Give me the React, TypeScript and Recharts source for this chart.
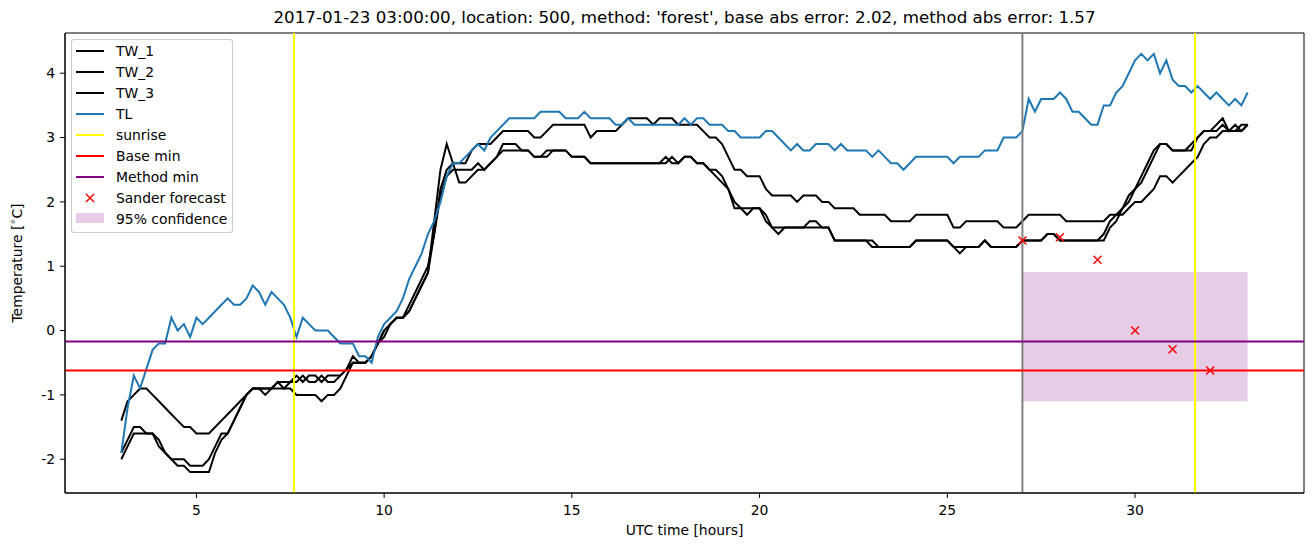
import React from "react"
import {
  ComposedChart,
  Line,
  Scatter,
  XAxis,
  YAxis,
  ReferenceLine,
  ReferenceArea,
} from "recharts"

// one reading every 10 minutes, 03:00 to 33:00 (hours since midnight)
const hours = Array.from({ length: 181 }, (_, i) => 3 + i / 6)

const tw1 = [
  -1.4, -1.1, -1.0, -0.9, -0.9, -1.0, -1.1, -1.2, -1.3, -1.4, -1.5, -1.5,
  -1.6, -1.6, -1.6, -1.5, -1.4, -1.3, -1.2, -1.1, -1.0, -0.9, -0.9, -0.9,
  -0.9, -0.8, -0.8, -0.8, -0.7, -0.8, -0.7, -0.7, -0.8, -0.7, -0.7, -0.7,
  -0.6, -0.5, -0.5, -0.5, -0.4, -0.2, 0.0, 0.1, 0.2, 0.2, 0.4, 0.6,
  0.8, 1.0, 1.5, 2.2, 2.5, 2.6, 2.6, 2.6, 2.8, 2.9, 2.9, 2.9,
  3.0, 3.1, 3.1, 3.1, 3.1, 3.1, 3.0, 3.0, 3.1, 3.2, 3.2, 3.2,
  3.2, 3.2, 3.2, 3.0, 3.1, 3.1, 3.1, 3.1, 3.2, 3.3, 3.3, 3.3,
  3.3, 3.2, 3.3, 3.3, 3.3, 3.2, 3.2, 3.2, 3.2, 3.1, 3.0, 3.0,
  2.9, 2.7, 2.5, 2.5, 2.4, 2.4, 2.4, 2.2, 2.1, 2.1, 2.1, 2.1,
  2.0, 2.1, 2.1, 2.1, 2.0, 2.0, 1.9, 1.9, 1.9, 1.9, 1.8, 1.8,
  1.8, 1.8, 1.8, 1.7, 1.7, 1.7, 1.7, 1.8, 1.8, 1.8, 1.8, 1.8,
  1.8, 1.6, 1.6, 1.7, 1.7, 1.7, 1.7, 1.7, 1.7, 1.6, 1.6, 1.6,
  1.7, 1.8, 1.8, 1.8, 1.8, 1.8, 1.8, 1.7, 1.7, 1.7, 1.7, 1.7,
  1.7, 1.7, 1.8, 1.8, 1.8, 1.9, 2.0, 2.0, 2.1, 2.2, 2.4, 2.4,
  2.3, 2.4, 2.5, 2.6, 2.7, 2.9, 3.0, 3.0, 3.1, 3.1, 3.1, 3.1,
  3.2,
]

const tw2 = [
  -2.0, -1.8, -1.6, -1.6, -1.6, -1.6, -1.8, -1.9, -2.0, -2.1, -2.1, -2.2,
  -2.2, -2.2, -2.2, -1.9, -1.7, -1.6, -1.4, -1.2, -1.0, -0.9, -0.9, -1.0,
  -0.9, -0.9, -0.9, -0.9, -1.0, -1.0, -1.0, -1.0, -1.1, -1.0, -1.0, -0.9,
  -0.7, -0.5, -0.5, -0.5, -0.4, -0.2, 0.0, 0.1, 0.2, 0.2, 0.3, 0.5,
  0.7, 0.9, 1.7, 2.5, 2.9, 2.6, 2.3, 2.3, 2.4, 2.5, 2.5, 2.6,
  2.7, 2.8, 2.8, 2.8, 2.8, 2.8, 2.7, 2.7, 2.7, 2.8, 2.8, 2.8,
  2.7, 2.7, 2.7, 2.6, 2.6, 2.6, 2.6, 2.6, 2.6, 2.6, 2.6, 2.6,
  2.6, 2.6, 2.6, 2.7, 2.6, 2.6, 2.7, 2.7, 2.6, 2.6, 2.5, 2.4,
  2.3, 2.2, 2.0, 1.9, 1.8, 1.9, 1.9, 1.7, 1.6, 1.5, 1.6, 1.6,
  1.6, 1.6, 1.7, 1.7, 1.6, 1.6, 1.4, 1.4, 1.4, 1.4, 1.4, 1.4,
  1.3, 1.3, 1.3, 1.3, 1.3, 1.3, 1.3, 1.4, 1.4, 1.4, 1.4, 1.4,
  1.4, 1.3, 1.2, 1.3, 1.3, 1.3, 1.4, 1.3, 1.3, 1.3, 1.3, 1.3,
  1.4, 1.4, 1.4, 1.4, 1.5, 1.5, 1.4, 1.4, 1.4, 1.4, 1.4, 1.4,
  1.4, 1.5, 1.7, 1.8, 1.9, 2.1, 2.2, 2.4, 2.6, 2.8, 2.9, 2.9,
  2.8, 2.8, 2.8, 2.9, 3.0, 3.1, 3.1, 3.2, 3.3, 3.1, 3.2, 3.1,
  3.2,
]

const tw3 = [
  -1.9, -1.7, -1.5, -1.5, -1.6, -1.6, -1.7, -1.9, -2.0, -2.0, -2.0, -2.1,
  -2.1, -2.1, -2.0, -1.8, -1.6, -1.6, -1.4, -1.2, -1.0, -0.9, -0.9, -0.9,
  -0.9, -0.8, -0.9, -0.8, -0.8, -0.7, -0.8, -0.8, -0.7, -0.8, -0.8, -0.7,
  -0.6, -0.4, -0.5, -0.5, -0.4, -0.2, -0.1, 0.1, 0.2, 0.2, 0.3, 0.5,
  0.7, 0.9, 1.5, 2.1, 2.4, 2.5, 2.5, 2.5, 2.5, 2.6, 2.5, 2.6,
  2.7, 2.9, 2.9, 2.9, 2.8, 2.8, 2.7, 2.7, 2.8, 2.8, 2.8, 2.8,
  2.7, 2.7, 2.7, 2.6, 2.6, 2.6, 2.6, 2.6, 2.6, 2.6, 2.6, 2.6,
  2.6, 2.6, 2.6, 2.6, 2.7, 2.6, 2.7, 2.7, 2.6, 2.6, 2.5, 2.5,
  2.4, 2.2, 1.9, 1.9, 1.9, 1.9, 1.9, 1.8, 1.6, 1.6, 1.6, 1.6,
  1.6, 1.6, 1.6, 1.6, 1.6, 1.6, 1.4, 1.4, 1.4, 1.4, 1.4, 1.4,
  1.4, 1.3, 1.3, 1.3, 1.3, 1.3, 1.3, 1.4, 1.4, 1.4, 1.4, 1.4,
  1.4, 1.3, 1.3, 1.3, 1.3, 1.3, 1.4, 1.3, 1.3, 1.3, 1.3, 1.3,
  1.4, 1.4, 1.4, 1.4, 1.5, 1.5, 1.4, 1.4, 1.4, 1.4, 1.4, 1.4,
  1.4, 1.4, 1.6, 1.7, 1.9, 2.0, 2.2, 2.3, 2.5, 2.7, 2.9, 2.9,
  2.8, 2.8, 2.8, 2.8, 3.0, 3.1, 3.1, 3.1, 3.2, 3.1, 3.1, 3.2,
  3.2,
]

const tl = [
  -1.9, -1.2, -0.7, -0.9, -0.6, -0.3, -0.2, -0.2, 0.2, 0.0, 0.1, -0.1,
  0.2, 0.1, 0.2, 0.3, 0.4, 0.5, 0.4, 0.4, 0.5, 0.7, 0.6, 0.4,
  0.6, 0.5, 0.4, 0.2, -0.1, 0.2, 0.1, 0.0, 0.0, 0.0, -0.1, -0.2,
  -0.2, -0.2, -0.4, -0.4, -0.5, -0.1, 0.1, 0.2, 0.3, 0.5, 0.8, 1.0,
  1.2, 1.5, 1.7, 2.0, 2.4, 2.6, 2.6, 2.7, 2.8, 2.9, 2.8, 3.0,
  3.1, 3.2, 3.3, 3.3, 3.3, 3.3, 3.3, 3.4, 3.4, 3.4, 3.4, 3.3,
  3.3, 3.3, 3.4, 3.3, 3.3, 3.3, 3.3, 3.2, 3.2, 3.3, 3.2, 3.2,
  3.2, 3.2, 3.2, 3.2, 3.2, 3.2, 3.3, 3.2, 3.3, 3.3, 3.2, 3.2,
  3.2, 3.1, 3.1, 3.0, 3.0, 3.0, 3.0, 3.1, 3.1, 3.0, 2.9, 2.8,
  2.9, 2.8, 2.8, 2.9, 2.9, 2.9, 2.8, 2.9, 2.8, 2.8, 2.8, 2.8,
  2.7, 2.8, 2.7, 2.6, 2.6, 2.5, 2.6, 2.7, 2.7, 2.7, 2.7, 2.7,
  2.7, 2.6, 2.7, 2.7, 2.7, 2.7, 2.8, 2.8, 2.8, 3.0, 3.0, 3.0,
  3.1, 3.6, 3.4, 3.6, 3.6, 3.6, 3.7, 3.6, 3.4, 3.4, 3.3, 3.2,
  3.2, 3.5, 3.5, 3.7, 3.8, 4.0, 4.2, 4.3, 4.2, 4.3, 4.0, 4.2,
  3.9, 3.8, 3.8, 3.7, 3.8, 3.7, 3.6, 3.7, 3.6, 3.5, 3.6, 3.5,
  3.7,
]

const forecastHours = [27, 28, 29, 30, 31, 32]
const forecastTemps = [1.4, 1.45, 1.1, 0.0, -0.29, -0.62]

const sunriseHours = [7.6, 31.6]
const forecastStart = 27
const baseMin = -0.62
const methodMin = -0.17
const confFrom = 27
const confTo = 33
const confLow = -1.1
const confHigh = 0.91

const xDomain = [1.5, 34.5]
const yDomain = [-2.525, 4.625]
const xTicks = [5, 10, 15, 20, 25, 30]
const yTicks = [-2, -1, 0, 1, 2, 3, 4]

const rows = hours.map((t, i) => ({
  t,
  tw1: tw1[i],
  tw2: tw2[i],
  tw3: tw3[i],
  tl: tl[i],
}))
const forecastRows = forecastHours.map((t, i) => ({ t, v: forecastTemps[i] }))

const FONT = '"DejaVu Sans", sans-serif'
const BLUE = "#1f77b4"
const PURPLE = "#800080"

const Cross = (props: any) => {
  const { cx, cy } = props
  if (cx == null || cy == null) return null
  const r = 4
  return (
    <path
      d={`M${cx - r},${cy - r}L${cx + r},${cy + r}M${cx - r},${cy + r}L${cx + r},${cy - r}`}
      stroke='#ff0000'
      strokeWidth={1.5}
      fill='none'
    />
  )
}

const legendItems = [
  { label: "TW_1", kind: "line", color: "#000000" },
  { label: "TW_2", kind: "line", color: "#000000" },
  { label: "TW_3", kind: "line", color: "#000000" },
  { label: "TL", kind: "line", color: BLUE },
  { label: "sunrise", kind: "line", color: "#ffff00" },
  { label: "Base min", kind: "line", color: "#ff0000" },
  { label: "Method min", kind: "line", color: PURPLE },
  { label: "Sander forecast", kind: "cross", color: "#ff0000" },
  { label: "95% confidence", kind: "patch", color: PURPLE },
]

const LegendBox = () => (
  <div
    style={{
      position: "absolute",
      left: 71,
      top: 39,
      width: 160,
      height: 192,
      border: "1px solid #cccccc",
      borderRadius: 3,
      background: "rgba(255,255,255,0.8)",
    }}>
    {legendItems.map((it, i) => (
      <div
        key={it.label}
        style={{ position: "absolute", left: 0, top: 1 + 21 * i, height: 20, width: 160 }}>
        <svg width={30} height={20} style={{ position: "absolute", left: 4, top: 0 }}>
          {it.kind === "line" && (
            <line x1={0} x2={28} y1={10} y2={10} stroke={it.color} strokeWidth={2} />
          )}
          {it.kind === "cross" && (
            <path d='M10,6L18,14M10,14L18,6' stroke={it.color} strokeWidth={1.5} />
          )}
          {it.kind === "patch" && (
            <rect x={0} y={4} width={28} height={10} fill={it.color} fillOpacity={0.2} />
          )}
        </svg>
        <span
          style={{
            position: "absolute",
            left: 44,
            top: 0,
            lineHeight: "20px",
            fontSize: 13.9,
            color: "#000",
            whiteSpace: "nowrap",
          }}>
          {it.label}
        </span>
      </div>
    ))}
  </div>
)

export default function App() {
  const tickStyle = { fill: "#000", fontSize: 13.9, fontFamily: FONT }
  return (
    <div
      style={{
        position: "absolute",
        left: 0,
        top: 0,
        width: 1313,
        height: 547,
        background: "#fff",
        fontFamily: FONT,
      }}>
      <div
        style={{
          position: "absolute",
          left: 65,
          width: 1239,
          top: 7,
          lineHeight: "20px",
          textAlign: "center",
          fontSize: 16.7,
          color: "#000",
          whiteSpace: "nowrap",
        }}>
        2017-01-23 03:00:00, location: 500, method: 'forest', base abs error: 2.02, method abs error: 1.57
      </div>
      <ComposedChart
        width={1313}
        height={547}
        data={rows}
        margin={{ top: 33, right: 9, bottom: 0, left: 0 }}>
        <XAxis
          dataKey='t'
          type='number'
          domain={xDomain}
          ticks={xTicks}
          allowDataOverflow
          height={54}
          tickSize={5}
          tickMargin={7}
          stroke='#000'
          tick={tickStyle}
          label={{
            content: () => (
              <text x={684.5} y={535} textAnchor='middle' fontSize={13.9} fontFamily={FONT} fill='#000'>
                UTC time [hours]
              </text>
            ),
          }}
        />
        <YAxis
          type='number'
          domain={yDomain}
          ticks={yTicks}
          allowDataOverflow
          width={65}
          tickSize={5}
          tickMargin={5}
          stroke='#000'
          tick={tickStyle}
          label={{
            content: () => (
              <text
                x={22}
                y={263}
                transform='rotate(-90 22 263)'
                textAnchor='middle'
                fontSize={13.9}
                fontFamily={FONT}
                fill='#000'>
                Temperature [<tspan fontSize={9.7} dy={-6}>∘</tspan>
                <tspan dy={6}>C]</tspan>
              </text>
            ),
          }}
        />
        <Line dataKey='tw1' stroke='#000' strokeWidth={2} dot={false} activeDot={false} isAnimationActive={false} />
        <Line dataKey='tw2' stroke='#000' strokeWidth={2} dot={false} activeDot={false} isAnimationActive={false} />
        <Line dataKey='tw3' stroke='#000' strokeWidth={2} dot={false} activeDot={false} isAnimationActive={false} />
        <Line dataKey='tl' stroke={BLUE} strokeWidth={2} dot={false} activeDot={false} isAnimationActive={false} />
        <ReferenceLine x={forecastStart} stroke='#808080' strokeWidth={2} />
        {sunriseHours.map((h) => (
          <ReferenceLine key={h} x={h} stroke='#ffff00' strokeWidth={2} />
        ))}
        <ReferenceLine y={baseMin} stroke='#ff0000' strokeWidth={2} />
        <ReferenceLine y={methodMin} stroke={PURPLE} strokeWidth={2} />
        <ReferenceArea
          x1={confFrom}
          x2={confTo}
          y1={confLow}
          y2={confHigh}
          fill={PURPLE}
          fillOpacity={0.2}
          stroke='none'
        />
        <Scatter data={forecastRows} dataKey='v' shape={Cross} isAnimationActive={false} />
        {/* axes frame, as in a matplotlib box */}
        <ReferenceArea
          x1={xDomain[0]}
          x2={xDomain[1]}
          y1={yDomain[0]}
          y2={yDomain[1]}
          fill='none'
          stroke='#000'
          strokeWidth={1}
          ifOverflow='visible'
        />
      </ComposedChart>
      <LegendBox />
    </div>
  )
}
